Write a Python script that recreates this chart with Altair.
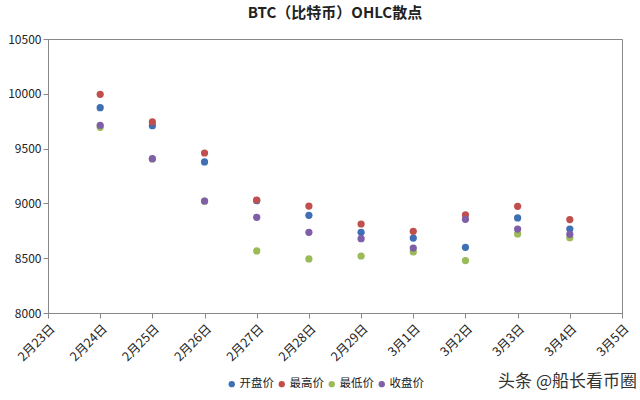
import altair as alt
import pandas as pd

day_labels = ["2月23日", "2月24日", "2月25日", "2月26日", "2月27日", "2月28日",
              "2月29日", "3月1日", "3月2日", "3月3日", "3月4日", "3月5日"]
point_days = [1, 2, 3, 4, 5, 6, 7, 8, 9, 10]
open_p = [9873, 9709, 9378, 9025, 8891, 8736, 8684, 8599, 8867, 8766]
high_p = [9995, 9743, 9460, 9031, 8976, 8812, 8745, 8895, 8973, 8852]
low_p = [9694, 9405, 9020, 8566, 8493, 8520, 8557, 8478, 8721, 8687]
close_p = [9712, 9408, 9022, 8873, 8736, 8678, 8593, 8855, 8766, 8718]
series_names = ["开盘价", "最高价", "最低价", "收盘价"]
series_colors = ["#3f6fb4", "#c0504d", "#9bbb59", "#7f5fa8"]

rows = []
for name, vals in zip(series_names, [open_p, high_p, low_p, close_p]):
    for d, v in zip(point_days, vals):
        rows.append({"day": d, "price": v, "series": name})
df = pd.DataFrame(rows)

font = "Noto Sans CJK SC"
label_expr = "[" + ",".join(f"'{s}'" for s in day_labels) + "][datum.value]"

points = alt.Chart(df).mark_point(filled=True, size=52, opacity=1).encode(
    x=alt.X("day:Q", scale=alt.Scale(domain=[0, 11], nice=False, zero=False),
            axis=alt.Axis(values=list(range(12)), labelExpr=label_expr, labelAngle=-45,
                          labelAlign="right", labelBaseline="top", labelFontSize=12.5,
                          labelFont=font, labelColor="#222", grid=False, title=None,
                          domainColor="#888", tickColor="#888", tickSize=5,
                          labelPadding=4)),
    y=alt.Y("price:Q", scale=alt.Scale(domain=[8000, 10500], nice=False, zero=False),
            axis=alt.Axis(values=[8000, 8500, 9000, 9500, 10000, 10500], grid=False,
                          format="d", title=None, labelFontSize=12, labelFont=font,
                          labelColor="#222", domainColor="#888", tickColor="#888",
                          tickSize=5)),
    color=alt.Color("series:N", sort=series_names,
                    scale=alt.Scale(domain=series_names, range=series_colors),
                    legend=alt.Legend(title=None, orient="none", direction="horizontal",
                                      legendX=178, legendY=339, symbolType="circle",
                                      symbolSize=40, labelFontSize=11.5, labelFont=font,
                                      labelColor="#222", columnPadding=2,
                                      symbolOffset=0, labelOffset=2)),
)

watermark = alt.Chart(pd.DataFrame({"t": ["头条 @船长看币圈"]})).mark_text(
    align="right", baseline="middle", fontSize=17, font=font, color="#333"
).encode(text="t:N", x=alt.value(589), y=alt.value(343))

chart = alt.layer(points, watermark).properties(
    width=574, height=274,
    title=alt.TitleParams("BTC（比特币）OHLC散点", anchor="middle", fontSize=15,
                          font=font, fontWeight="bold", color="#222", offset=12),
    autosize=alt.AutoSizeParams(type="none"),
    padding={"left": 48, "top": 39, "right": 18, "bottom": 87},
).configure_view(stroke="#888", strokeWidth=1)

chart.save("out.html", embed_options={"renderer": "svg", "actions": False})
